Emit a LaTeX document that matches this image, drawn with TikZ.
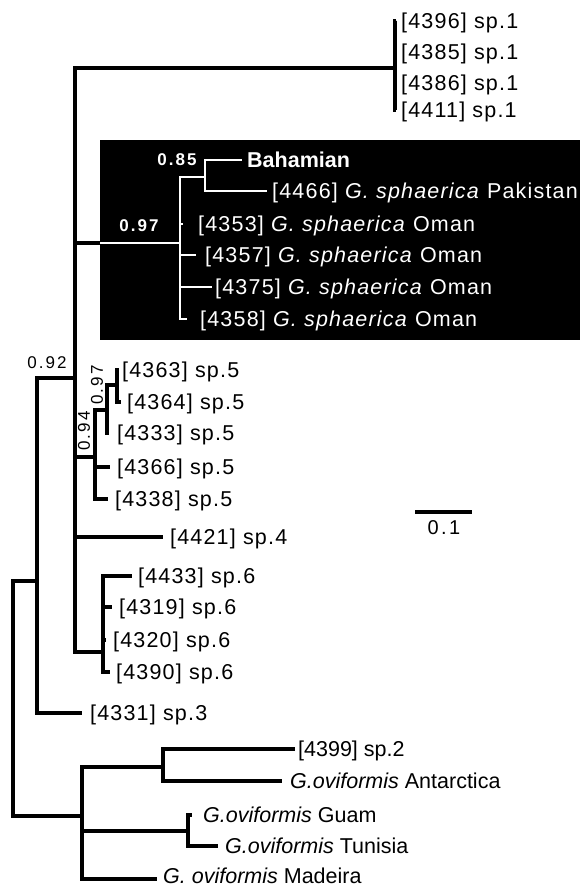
\documentclass[tikz,border=0pt]{standalone}
\usepackage{fontspec}
\setmainfont{Liberation Sans}
\newfontfamily\leaffont[LetterSpace=5.5]{Liberation Sans}
\newfontfamily\bootfont[LetterSpace=12]{Liberation Sans}

\begin{document}
\begin{tikzpicture}[x=1pt, y=-1pt,
    branch/.style={line width=3.2pt},
    wbranch/.style={white, line width=2.4pt},
    twig/.style={branch, shorten >=#1}, twig/.default=6pt,
    wtwig/.style={wbranch, shorten >=#1}, wtwig/.default=6pt,
    leaf/.style={anchor=west, inner sep=0pt, text height=19.3pt, text depth=4.3pt,
        font=\fontsize{21.5}{24}\leaffont},
    plainleaf/.style={leaf, font=\fontsize{21.5}{24}\selectfont},
    wleaf/.style={leaf, text=white},
    boot/.style={inner sep=0pt, font=\fontsize{17}{18}\bootfont},
    wboot/.style={boot, text=white, font=\fontsize{17}{18}\bootfont\bfseries}]

    \useasboundingbox (0,0) rectangle (580,886);

    % Black panel behind the sphaerica clade
    \node[fill=black, anchor=north west, inner sep=0pt,
        minimum width=480pt, minimum height=200pt] (panel) at (100,140) {};

    % Internal nodes
    \coordinate (root) at (13,700);
    \coordinate (n92)  at (37,581);
    \coordinate (nmain) at (75,378);
    \coordinate (nsp1) at (395,68);
    \coordinate (nsph) at (180,243);
    \coordinate (n85)  at (205,177);
    \coordinate (n94)  at (95,457);
    \coordinate (n97)  at (107,410);
    \coordinate (nsp5) at (117,385);
    \coordinate (nsp6) at (103,652);
    \coordinate (novi) at (82,816);
    \coordinate (nant) at (163,767);
    \coordinate (ngt)  at (188,831);

    % sp.1
    \node[leaf] (l4396) at (401,21) {[4396] sp.1};
    \node[leaf] (l4385) at (401,52) {[4385] sp.1};
    \node[leaf] (l4386) at (401,83) {[4386] sp.1};
    \node[leaf] (l4411) at (401,110) {[4411] sp.1};

    % sphaerica clade (white on black)
    \node[wleaf, font=\fontsize{21.5}{24}\selectfont\bfseries] (lbah) at (247,160) {Bahamian};
    \node[wleaf] (l4466) at (272,191) {[4466] \textit{G. sphaerica} Pakistan};
    \node[wleaf] (l4353) at (198,224) {[4353] \textit{G. sphaerica} Oman};
    \node[wleaf] (l4357) at (205,255) {[4357] \textit{G. sphaerica} Oman};
    \node[wleaf] (l4375) at (215,287) {[4375] \textit{G. sphaerica} Oman};
    \node[wleaf] (l4358) at (200,319) {[4358] \textit{G. sphaerica} Oman};

    % sp.5
    \node[leaf] (l4363) at (122,370) {[4363] sp.5};
    \node[leaf] (l4364) at (127,402) {[4364] sp.5};
    \node[leaf] (l4333) at (117,433) {[4333] sp.5};
    \node[leaf] (l4366) at (117,467) {[4366] sp.5};
    \node[leaf] (l4338) at (115,499) {[4338] sp.5};

    % sp.4, sp.6, sp.3
    \node[leaf] (l4421) at (170,537) {[4421] sp.4};
    \node[leaf] (l4433) at (138,576) {[4433] sp.6};
    \node[leaf] (l4319) at (119,607) {[4319] sp.6};
    \node[leaf] (l4320) at (113,640) {[4320] sp.6};
    \node[leaf] (l4390) at (116,672) {[4390] sp.6};
    \node[leaf] (l4331) at (90,713) {[4331] sp.3};

    % oviformis group
    \node[plainleaf] (l4399) at (298,749) {[4399] sp.2};
    \node[plainleaf] (lant) at (290,781) {\textit{G.oviformis} Antarctica};
    \node[plainleaf] (lguam) at (203,815) {\textit{G.oviformis} Guam};
    \node[plainleaf] (ltun) at (225,846) {\textit{G.oviformis} Tunisia};
    \node[plainleaf, text depth=1pt] (lmad) at (163,874) {\textit{G. oviformis} Madeira};

    % Branches
    \draw[branch] (root) |- (n92);
    \draw[branch] (root) |- (novi);
    \draw[branch] (n92) |- (nmain);
    \draw[twig=8pt] (n92) |- (l4331.west);
    \draw[branch] (nmain) |- (nsp1);
    \draw[branch] (nmain) |- (nsph);
    \draw[branch] (nmain) |- (n94);
    \draw[twig=7pt] (nmain) |- (l4421.west);
    \draw[branch] (nmain) |- (nsp6);

    \foreach \l in {l4396,l4385,l4386,l4411}
        \draw[twig=5pt] (nsp1) |- (\l.west);

    % white branches inside the panel
    \draw[wbranch] (panel.west |- nsph) -- (nsph);
    \draw[wbranch] (nsph) |- (n85);
    \draw[wtwig=5pt] (n85) |- (lbah.west);
    \draw[wtwig=5pt] (n85) |- (l4466.west);
    \draw[wtwig=15pt] (nsph) |- (l4353.west);
    \draw[wtwig=9pt] (nsph) |- (l4357.west);
    \draw[wtwig=3pt] (nsph) |- (l4375.west);
    \draw[wtwig=13pt] (nsph) |- (l4358.west);

    \draw[branch] (n94) |- (n97);
    \draw[branch] (n97) |- (nsp5);
    \draw[twig=3pt] (nsp5) |- (l4363.west);
    \draw[twig=6pt] (nsp5) |- (l4364.west);
    \draw[twig=8pt] (n97) |- (l4333.west);
    \draw[twig=7pt] (n94) |- (l4366.west);
    \draw[twig=7pt] (n94) |- (l4338.west);

    \draw[twig] (nsp6) |- (l4433.west);
    \draw[twig=7pt] (nsp6) |- (l4319.west);
    \draw[twig=7pt] (nsp6) |- (l4320.west);
    \draw[twig] (nsp6) |- (l4390.west);

    \draw[branch] (novi) |- (nant);
    \draw[branch] (novi) |- (ngt);
    \draw[twig] (novi) |- ([yshift=-5pt]lmad.west);
    \draw[twig=3pt] (nant) |- (l4399.west);
    \draw[twig=8pt] (nant) |- (lant.west);
    \draw[twig=11pt] (ngt) |- (lguam.west);
    \draw[twig=7pt] (ngt) |- (ltun.west);

    % Support values
    \node[boot] (b92) at (47,363) {0.92};
    \node[boot, rotate=90] (b94) at (84,431) {0.94};
    \node[boot, rotate=90] (b97) at (97,385) {0.97};
    \node[wboot] (b85) at (177,160) {0.85};
    \node[wboot] (b97w) at (139,226) {0.97};

    % Scale bar
    \coordinate (sbl) at (415,512);
    \coordinate (sbr) at (472,512);
    \draw[branch] (sbl) -- (sbr);
    \node[inner sep=0pt, font=\fontsize{20}{22}\bootfont] (sblab) at (444,528) {0.1};

\end{tikzpicture}
\end{document}
